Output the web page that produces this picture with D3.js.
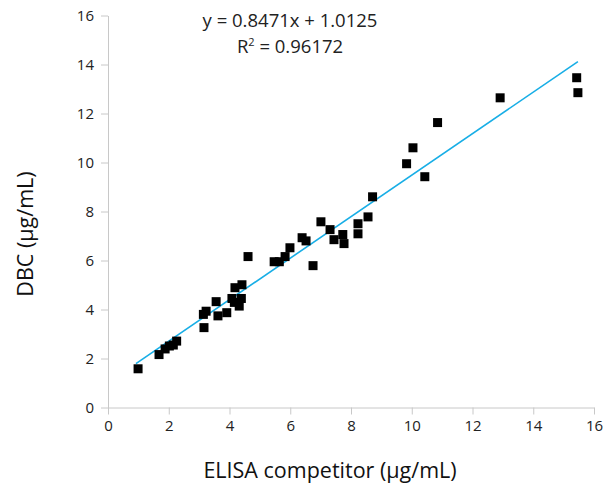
<!DOCTYPE html>
<html lang="en">
<head>
<meta charset="utf-8">
<title>DBC vs ELISA competitor</title>
<script src="https://cdn.jsdelivr.net/npm/d3@7"></script>
<style>
  body { margin: 0; background: #fff; }
  .tick text { font-family: "Open Sans", "Noto Sans", sans-serif; font-size: 15px; fill: #222; }
  .axis path, .axis line { stroke: #c8c8c8; }
</style>
</head>
<body>
<div id="chart"></div>
<script>
// ELISA competitor (x) and DBC (y), in ug/mL
var elisa = [0.99, 1.68, 1.88, 2.02, 2.15, 2.26, 3.14, 3.16, 3.23, 3.56, 3.62, 3.91,
             4.08, 4.16, 4.18, 4.32, 4.39, 4.41, 4.61, 5.47, 5.64, 5.83, 5.99, 6.39,
             6.52, 6.75, 7.01, 7.31, 7.44, 7.73, 7.77, 8.23, 8.23, 8.56, 8.71, 9.83,
             10.04, 10.43, 10.85, 12.91, 15.43, 15.47];
var dbc   = [1.58, 2.16, 2.39, 2.51, 2.55, 2.71, 3.80, 3.26, 3.93, 4.32, 3.74, 3.87,
             4.45, 4.29, 4.89, 4.14, 4.45, 5.01, 6.16, 5.95, 5.95, 6.16, 6.52, 6.93,
             6.80, 5.79, 7.58, 7.26, 6.85, 7.06, 6.69, 7.50, 7.09, 7.78, 8.60, 9.95,
             10.60, 9.42, 11.63, 12.64, 13.46, 12.85];
var xTicks = [0, 2, 4, 6, 8, 10, 12, 14, 16];
var yTicks = [0, 2, 4, 6, 8, 10, 12, 14, 16];
var slope = 0.8471, intercept = 1.0125, r2 = "0.96172";

var w = 606, h = 486;
var svg = d3.select("#chart").append("svg")
  .attr("width", w).attr("height", h);

var x = d3.scaleLinear().domain([0, 16]).range([108, 594]);
var y = d3.scaleLinear().domain([0, 16]).range([407.5, 15.5]);

svg.append("g").attr("class", "axis")
  .attr("transform", "translate(0," + y(0) + ")")
  .call(d3.axisBottom(x).tickValues(xTicks).tickSize(7).tickSizeOuter(0).tickPadding(6));
svg.append("g").attr("class", "axis")
  .attr("transform", "translate(" + x(0) + ",0)")
  .call(d3.axisLeft(y).tickValues(yTicks).tickSize(7).tickSizeOuter(0).tickPadding(7));

// trendline across the data range
var xmin = 0.92, xmax = d3.max(elisa);
svg.append("line")
  .attr("x1", x(xmin)).attr("y1", y(slope * xmin + intercept))
  .attr("x2", x(xmax)).attr("y2", y(slope * xmax + intercept))
  .attr("stroke", "#18aee6").attr("stroke-width", 1.6);

var pts = elisa.map(function(d, i) { return {x: d, y: dbc[i]}; });
svg.selectAll("rect.pt").data(pts).enter().append("rect")
  .attr("class", "pt")
  .attr("x", function(d) { return x(d.x) - 4.5; })
  .attr("y", function(d) { return y(d.y) - 4.5; })
  .attr("width", 9).attr("height", 9)
  .attr("fill", "#000");

// equation label
svg.append("text")
  .attr("x", 290).attr("y", 27)
  .attr("text-anchor", "middle")
  .style("font-family", "'Open Sans', 'Noto Sans', sans-serif")
  .style("font-size", "18.5px").attr("fill", "#222")
  .text("y = " + slope + "x + " + intercept);
var r = svg.append("text")
  .attr("x", 290).attr("y", 53)
  .attr("text-anchor", "middle")
  .style("font-family", "'Open Sans', 'Noto Sans', sans-serif")
  .style("font-size", "18.5px").attr("fill", "#222");
r.append("tspan").text("R");
r.append("tspan").attr("dy", -7).style("font-size", "11px").text("2");
r.append("tspan").attr("dy", 7).text(" = " + r2);

// axis titles
svg.append("text")
  .attr("x", 330).attr("y", 478)
  .attr("text-anchor", "middle")
  .style("font-family", "'Open Sans', 'Noto Sans', sans-serif")
  .style("font-size", "21.5px").attr("fill", "#111")
  .text("ELISA competitor (\u00b5g/mL)");
svg.append("text")
  .attr("transform", "translate(33,234) rotate(-90)")
  .attr("text-anchor", "middle")
  .style("font-family", "'Open Sans', 'Noto Sans', sans-serif")
  .style("font-size", "21.5px").attr("fill", "#111")
  .text("DBC (\u00b5g/mL)");
</script>
</body>
</html>
